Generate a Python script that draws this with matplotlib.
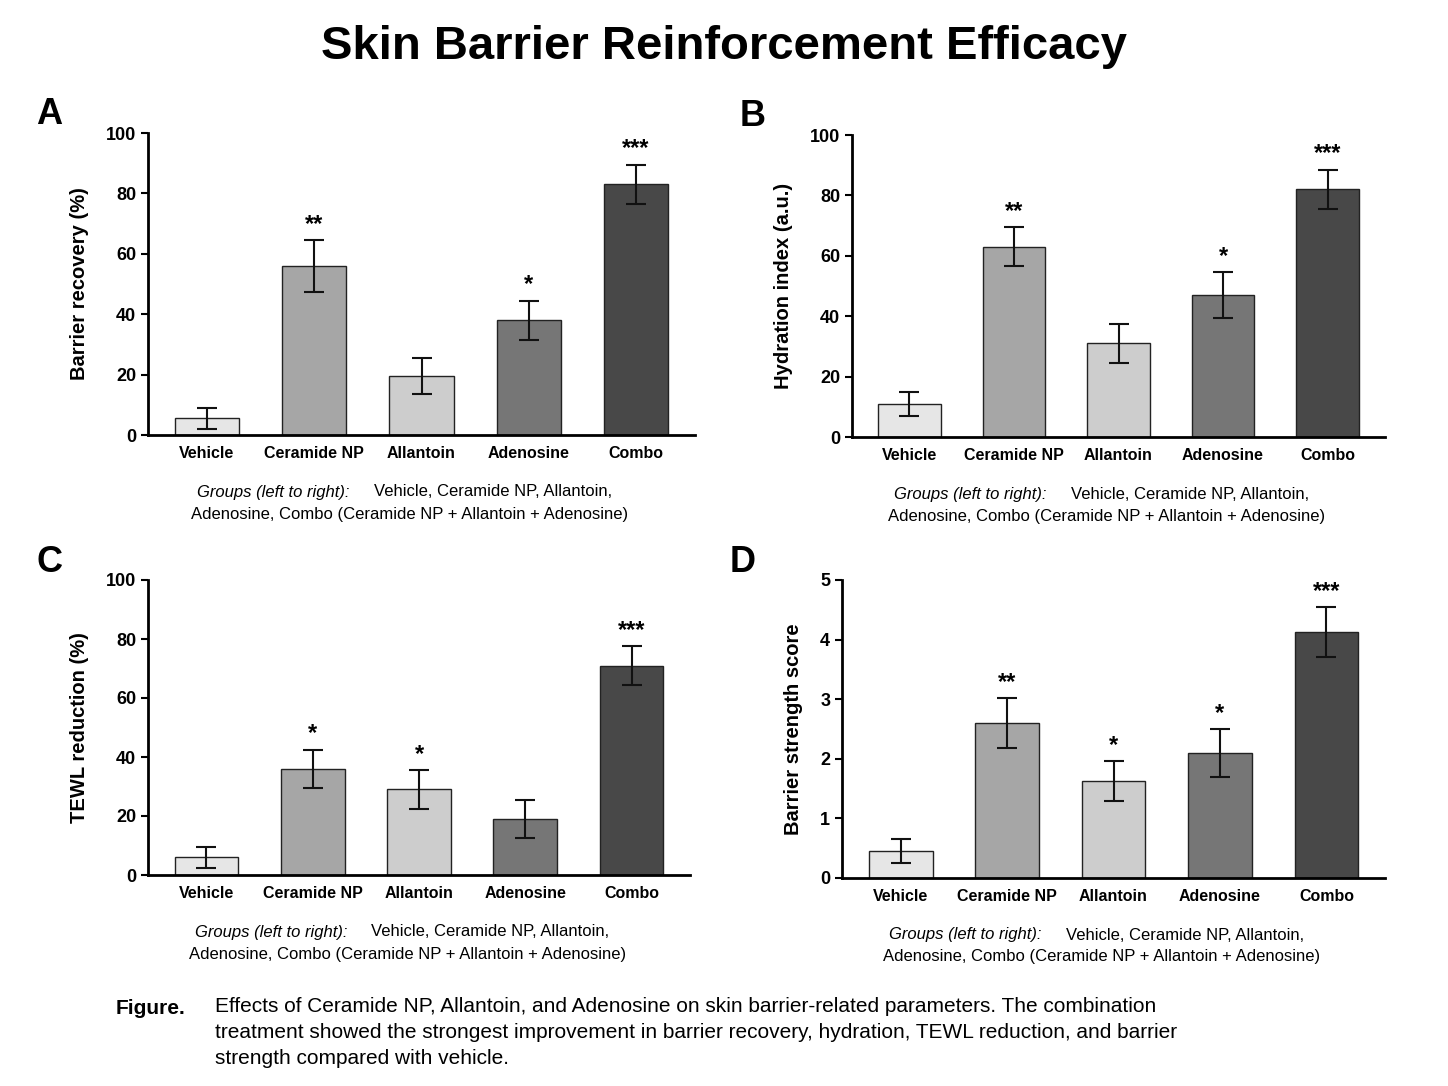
import matplotlib.pyplot as plt

groups = ["Vehicle", "Ceramide NP", "Allantoin", "Adenosine", "Combo"]
colors = ["#e6e6e6", "#a6a6a6", "#cdcdcd", "#767676", "#484848"]

recovery = [5.5, 56, 19.5, 38, 83]
recovery_err = [3.5, 8.5, 6, 6.5, 6.5]
recovery_sig = ["", "**", "", "*", "***"]

hydration = [11, 63, 31, 47, 82]
hydration_err = [4, 6.5, 6.5, 7.5, 6.5]
hydration_sig = ["", "**", "", "*", "***"]

tewl = [6, 36, 29, 19, 71]
tewl_err = [3.5, 6.5, 6.5, 6.5, 6.5]
tewl_sig = ["", "*", "*", "", "***"]

strength = [0.45, 2.6, 1.63, 2.1, 4.12]
strength_err = [0.2, 0.42, 0.33, 0.4, 0.42]
strength_sig = ["", "**", "*", "*", "***"]

W, H = 1448, 1086
fig = plt.figure(figsize=(W / 100, H / 100), dpi=100)
plt.rcParams['font.family'] = ['Liberation Sans', 'DejaVu Sans']

panels = [
    ("A", recovery, recovery_err, recovery_sig, "Barrier recovery (%)", 100, [0, 20, 40, 60, 80, 100], (148, 695, 133, 435)),
    ("B", hydration, hydration_err, hydration_sig, "Hydration index (a.u.)", 100, [0, 20, 40, 60, 80, 100], (852, 1385, 135, 437)),
    ("C", tewl, tewl_err, tewl_sig, "TEWL reduction (%)", 100, [0, 20, 40, 60, 80, 100], (148, 690, 580, 875)),
    ("D", strength, strength_err, strength_sig, "Barrier strength score", 5, [0, 1, 2, 3, 4, 5], (842, 1385, 580, 878)),
]

for letter, vals, errs, sigs, ylabel, ymax, ticks, (x0, x1, y0, y1) in panels:
    ax = fig.add_axes([x0 / W, 1 - y1 / H, (x1 - x0) / W, (y1 - y0) / H])
    x = range(len(groups))
    ax.bar(x, vals, width=0.6, color=colors, edgecolor="#222222", linewidth=1.0,
           yerr=errs, capsize=7, error_kw=dict(elinewidth=1.5, capthick=1.5, ecolor="#111111"))
    for i, s in enumerate(sigs):
        if s:
            ax.text(i, vals[i] + errs[i] + ymax * 0.015, s, ha="center", va="bottom",
                    fontsize=17, fontweight="bold")
    ax.set_xlim(-0.55, 4.55)
    ax.set_ylim(0, ymax)
    ax.set_yticks(ticks)
    ax.set_xticks(list(x))
    ax.set_xticklabels(groups, fontsize=11.5, fontweight="bold")
    ax.tick_params(axis="y", labelsize=13, width=1.5, length=5)
    for lab in ax.get_yticklabels():
        lab.set_fontweight("bold")
    ax.tick_params(axis="x", length=0, pad=8)
    ax.set_ylabel(ylabel, fontsize=14.5, fontweight="bold", labelpad=12)
    for sp in ["top", "right"]:
        ax.spines[sp].set_visible(False)
    for sp in ["left", "bottom"]:
        ax.spines[sp].set_linewidth(2)
    fig.text((x0 - 112) / W, 1 - (y0 - 18) / H, letter, fontsize=26, fontweight="bold", va="center")

    cx = (x0 + x1) / 2 / W
    t1 = fig.text(cx - 0.155, 1 - (y1 + 57) / H, "Groups (left to right):", fontsize=12, style="italic", va="center")
    fig.text(cx - 0.155 + 0.122, 1 - (y1 + 57) / H,
             "Vehicle, Ceramide NP, Allantoin,", fontsize=12, va="center")
    fig.text(cx - 0.008, 1 - (y1 + 79) / H,
             "Adenosine, Combo (Ceramide NP + Allantoin + Adenosine)", fontsize=12, va="center", ha="center")

fig.text(0.5, 1 - 47 / H, "Skin Barrier Reinforcement Efficacy", fontsize=34, fontweight="bold",
         ha="center", va="center")
fig.text(116 / W, 1 - 1008 / H, "Figure.", fontsize=15, fontweight="bold", va="center")
caption = ("Effects of Ceramide NP, Allantoin, and Adenosine on skin barrier-related parameters. The combination\n"
           "treatment showed the strongest improvement in barrier recovery, hydration, TEWL reduction, and barrier\n"
           "strength compared with vehicle.")
fig.text(215 / W, 1 - 997 / H, caption, fontsize=15, va="top", linespacing=1.45)

fig.savefig("out.png", dpi=100, facecolor="white")
